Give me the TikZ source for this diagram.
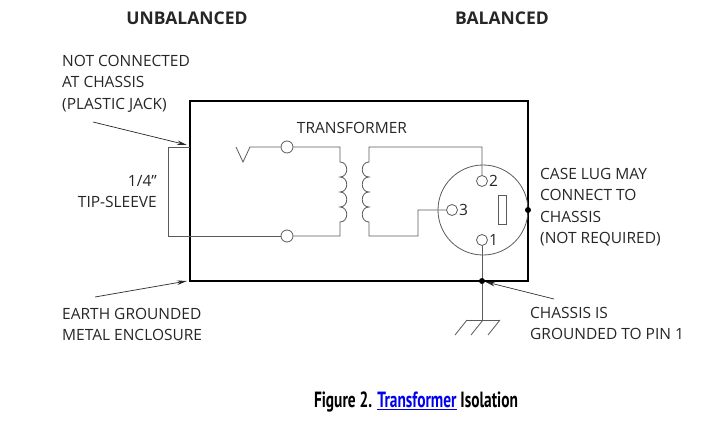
\documentclass[tikz,border=0pt]{standalone}
\usepackage{fontspec}
\setmainfont{Open Sans}
\newfontfamily\capfont[FakeStretch=0.70]{PT Sans}
\usetikzlibrary{positioning,arrows.meta}
\definecolor{linkblue}{RGB}{0,0,238}
\definecolor{wiregray}{RGB}{90,90,90}

\begin{document}
\begin{tikzpicture}[x=1pt,y=-1pt,
  wire/.style={draw=wiregray, line width=0.8pt},
  box/.style={draw=black, line width=1.1pt},
  pin/.style={circle, draw=wiregray, line width=0.8pt, minimum size=12pt, inner sep=0pt},
  lbl/.style={font=\fontsize{15.5}{21.5}\selectfont, align=left, inner sep=0pt, text=black!85},
  head/.style={font=\bfseries\fontsize{17.5}{20}\selectfont, inner sep=0pt, text=black!85},
  ptr/.style={-{Stealth[length=10pt,width=4.5pt]}, line width=0.7pt, black!85},
  dot/.style={circle, fill=black, inner sep=0pt, minimum size=6pt}]
  \useasboundingbox (0,0) rectangle (721,423);

  % Enclosure
  \draw[box] (190,101) rectangle (528,281);

  % Jack
  \coordinate (jt) at (190,147);
  \node[pin] (tipT) at (287,147) {};
  \node[pin] (tipB) at (287,236) {};
  \draw[wire] (jt) -- (168,147) -- (168,236) -- (tipB.west);
  \draw[wire] (236,147) -- (243,162) -- (250,147) -- (tipT.west);

  % Transformer
  \draw[wire] (tipT.east) -- (340,147) -- (340,162)
    \foreach \y in {162,177,192,207} { .. controls (349,\y) and (349,\y+15) .. (340,\y+15) }
    -- (340,236) -- (tipB.east);

  % XLR
  \node[circle, draw=wiregray, line width=0.8pt, minimum size=90pt, inner sep=0pt] (xlr) at (483,210) {};
  \node[pin, minimum size=11pt] (p2) at (482,181) {};
  \node[pin, minimum size=11pt] (p3) at (452,210) {};
  \node[pin, minimum size=11pt] (p1) at (482,240) {};
  \draw[wire] (498,195) rectangle (506,224);
  \node[lbl, right=1pt of p2] (n2) {2};
  \node[lbl, right=1pt of p3] (n3) {3};
  \node[lbl, right=1pt of p1] (n1) {1};

  \draw[wire] (p2.north) -- (482,147) -- (369,147) -- (369,162)
    \foreach \y in {162,177,192,207} { .. controls (360,\y) and (360,\y+15) .. (369,\y+15) }
    -- (369,236) -- (418,236) -- (418,210) -- (p3.west);

  % Ground
  \node[dot] (lug) at (528,210) {};
  \node[dot] (gnd) at (482,281) {};
  \coordinate (earth) at (482,320);
  \draw[wire] (p1.south) -- (gnd) -- (earth);
  \draw[wire] (466,320) -- (500,320);
  \foreach \x in {467,483,500} \draw[wire] (\x,320) -- (\x-12,335);

  % Labels
  \node[head] (unbal) at (187,18) {UNBALANCED};
  \node[head] (bal) at (502,18) {BALANCED};
  \node[lbl, anchor=north west] (nc) at (62,55) {NOT CONNECTED\\AT CHASSIS\\(PLASTIC JACK)};
  \node[lbl, anchor=north east, align=right] (ts) at (157,175) {1/4”\\TIP-SLEEVE};
  \node[lbl, anchor=north] (tr) at (352,122) {TRANSFORMER};
  \node[lbl, anchor=north west] (cl) at (540,168) {CASE LUG MAY\\CONNECT TO\\CHASSIS\\(NOT REQUIRED)};
  \node[lbl, anchor=north west] (eg) at (62,308) {EARTH GROUNDED\\METAL ENCLOSURE};
  \node[lbl, anchor=north west] (cg) at (530,307) {CHASSIS IS\\GROUNDED TO PIN 1};

  % Pointers
  \coordinate (a1) at (93,122);
  \coordinate (a2) at (95,297);
  \coordinate (a3) at (554,299);
  \draw[ptr] (a1) -- (187,145);
  \draw[ptr] (a2) -- (187,281);
  \draw[ptr] (a3) -- (gnd);

  % Caption
  \node[font=\capfont\bfseries\fontsize{22}{26}\selectfont, inner sep=0pt, anchor=base] (cap) at (416,407)
    {Figure 2. \textcolor{linkblue}{\underline{Transformer}} Isolation};
\end{tikzpicture}
\end{document}
